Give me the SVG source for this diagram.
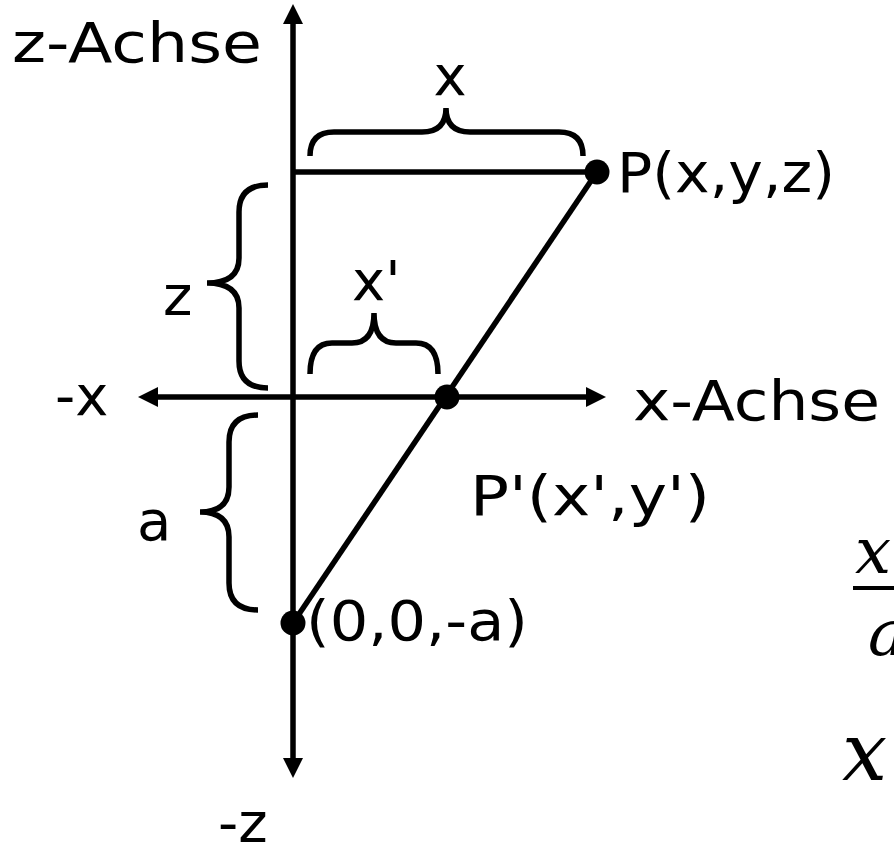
<svg xmlns="http://www.w3.org/2000/svg" width="894" height="848" viewBox="0 0 894 848">
<style>
.lbl{font-family:"DejaVu Sans","Liberation Sans",sans-serif;font-size:56px;fill:#000}
.math{font-family:"DejaVu Serif","Liberation Serif",serif;font-style:italic;fill:#000}
.ln{stroke:#000;stroke-width:5.5;fill:none}
.br{stroke:#000;stroke-width:5.5;fill:none;stroke-linecap:butt}
.dot{fill:#000}
</style>
<defs>
<marker id="ah" markerUnits="userSpaceOnUse" markerWidth="20" markerHeight="20" viewBox="0 0 20 20" refX="0" refY="10" orient="auto-start-reverse">
<path d="M0,0 L20,10 L0,20 z" fill="#000"/>
</marker>
</defs>
<rect width="894" height="848" fill="#fff"/>
<g id="connectors">
<line id="z-axis" class="ln" x1="293" y1="24" x2="293" y2="758" marker-start="url(#ah)" marker-end="url(#ah)"/>
<line id="x-axis" class="ln" x1="158" y1="397" x2="586" y2="397" marker-start="url(#ah)" marker-end="url(#ah)"/>
<line id="top-line" class="ln" x1="293" y1="172" x2="597" y2="172"/>
<line id="ray" class="ln" x1="293" y1="623" x2="597" y2="172"/>
</g>
<g id="braces">
<path id="brace-x" class="br" d="M310,156 Q310,132 334,132 L422,132 Q446,132 446,108 Q446,132 470,132 L559,132 Q583,132 583,156"/>
<path id="brace-xp" class="br" d="M310,374 Q310,343 332,343 L352,343 Q374,343 374,313 Q374,343 396,343 L416,343 Q438,343 438,374"/>
<path id="brace-z" class="br" d="M268,185 Q239,185 239,212 L239,258 Q239,283 207,283 Q239,283 239,308 L239,361 Q239,388 268,388"/>
<path id="brace-a" class="br" d="M258,415 Q229,415 229,442 L229,487 Q229,512 200,512 Q229,512 229,537 L229,583 Q229,610 258,610"/>
</g>
<g id="node-P"><circle class="dot" cx="597" cy="172" r="12.5"/><text class="lbl" x="617" y="192" textLength="218" lengthAdjust="spacingAndGlyphs">P(x,y,z)</text></g>
<g id="node-Pp"><circle class="dot" cx="447" cy="397" r="12.5"/><text class="lbl" x="470" y="515" textLength="240" lengthAdjust="spacingAndGlyphs">P'(x',y')</text></g>
<g id="node-O"><circle class="dot" cx="293" cy="623" r="12.5"/><text class="lbl" x="306" y="640" textLength="222" lengthAdjust="spacingAndGlyphs">(0,0,-a)</text></g>
<g id="labels">
<text class="lbl" x="12" y="62" textLength="250" lengthAdjust="spacingAndGlyphs">z-Achse</text>
<text class="lbl" x="633" y="420" textLength="247" lengthAdjust="spacingAndGlyphs">x-Achse</text>
<text class="lbl" x="450" y="95" text-anchor="middle">x</text>
<text class="lbl" x="352" y="300">x'</text>
<text class="lbl" x="163" y="315">z</text>
<text class="lbl" x="55" y="415">-x</text>
<text class="lbl" x="137" y="540">a</text>
<text class="lbl" x="218" y="842">-z</text>
</g>
<g id="formula">
<text class="math" x="855" y="573" font-size="64">x</text>
<line x1="853" y1="588" x2="894" y2="588" stroke="#000" stroke-width="4"/>
<text class="math" x="868" y="655" font-size="64">a</text>
<text class="math" x="842" y="780" font-size="80">x</text>
</g>
</svg>
